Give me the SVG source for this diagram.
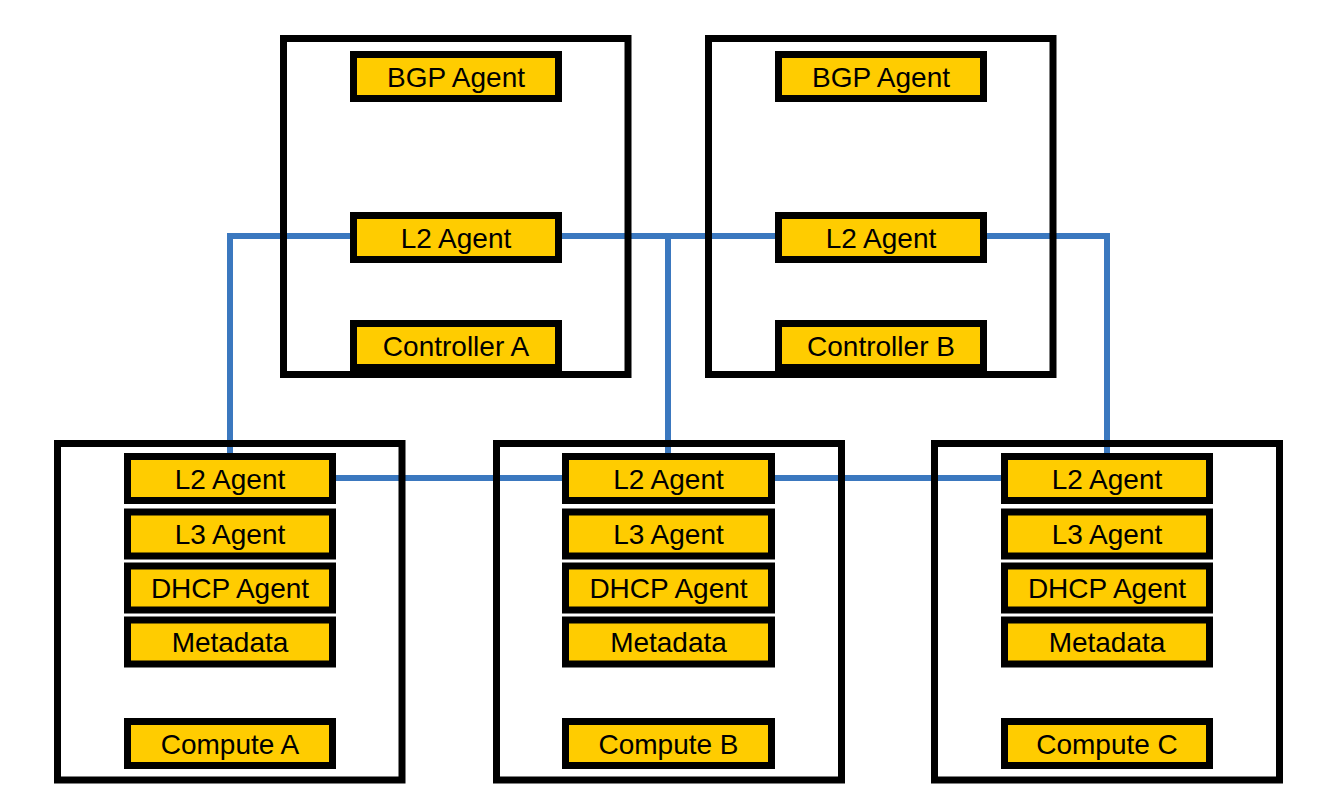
<svg xmlns="http://www.w3.org/2000/svg" width="1325" height="810" viewBox="0 0 1325 810">
<style>
.frame{fill:none;stroke:#000;stroke-width:7}
.box{fill:#FFCC00;stroke:#000;stroke-width:7}
.lbl{font-family:"Liberation Sans",Arial,sans-serif;font-size:28px;fill:#000;text-anchor:middle}
.link{fill:none;stroke:#3B78BF;stroke-width:6}
</style>
<rect width="1325" height="810" fill="#fff"/>
<g id="connectors">
<path class="link" d="M230,456 V236 H353"/>
<path class="link" d="M558,236 H779"/>
<path class="link" d="M668,236 V456"/>
<path class="link" d="M983,236 H1107 V456"/>
<path class="link" d="M332,478 H566"/>
<path class="link" d="M770,478 H1005"/>
</g>
<g id="controller-a">
<rect class="frame" x="283.5" y="38.5" width="344.5" height="336"/>
<g id="ctrl-a-bgp"><rect class="box" x="353.5" y="54.5" width="205" height="44"/><text class="lbl" x="456" y="86.5">BGP Agent</text></g>
<g id="ctrl-a-l2"><rect class="box" x="353.5" y="215.5" width="205" height="44"/><text class="lbl" x="456" y="247.5">L2 Agent</text></g>
<g id="ctrl-a-name"><rect class="box" x="353.5" y="323.5" width="205" height="44"/><text class="lbl" x="456" y="355.5">Controller A</text></g>
</g>
<g id="controller-b">
<rect class="frame" x="708.5" y="38.5" width="344.5" height="336"/>
<g id="ctrl-b-bgp"><rect class="box" x="778.5" y="54.5" width="205" height="44"/><text class="lbl" x="881" y="86.5">BGP Agent</text></g>
<g id="ctrl-b-l2"><rect class="box" x="778.5" y="215.5" width="205" height="44"/><text class="lbl" x="881" y="247.5">L2 Agent</text></g>
<g id="ctrl-b-name"><rect class="box" x="778.5" y="323.5" width="205" height="44"/><text class="lbl" x="881" y="355.5">Controller B</text></g>
</g>
<g id="compute-a">
<rect class="frame" x="57.5" y="443.5" width="344.5" height="336.5"/>
<g id="cmp-a-l2"><rect class="box" x="127.5" y="456.5" width="205" height="44"/><text class="lbl" x="230" y="488.5">L2 Agent</text></g>
<g id="cmp-a-l3"><rect class="box" x="127.5" y="512" width="205" height="44"/><text class="lbl" x="230" y="544">L3 Agent</text></g>
<g id="cmp-a-dhcp"><rect class="box" x="127.5" y="566" width="205" height="44"/><text class="lbl" x="230" y="598">DHCP Agent</text></g>
<g id="cmp-a-meta"><rect class="box" x="127.5" y="620" width="205" height="44"/><text class="lbl" x="230" y="652">Metadata</text></g>
<g id="cmp-a-name"><rect class="box" x="127.5" y="721.5" width="205" height="44"/><text class="lbl" x="230" y="753.5">Compute A</text></g>
</g>
<g id="compute-b">
<rect class="frame" x="496.5" y="443.5" width="345" height="336.5"/>
<g id="cmp-b-l2"><rect class="box" x="565.5" y="456.5" width="206" height="44"/><text class="lbl" x="668.5" y="488.5">L2 Agent</text></g>
<g id="cmp-b-l3"><rect class="box" x="565.5" y="512" width="206" height="44"/><text class="lbl" x="668.5" y="544">L3 Agent</text></g>
<g id="cmp-b-dhcp"><rect class="box" x="565.5" y="566" width="206" height="44"/><text class="lbl" x="668.5" y="598">DHCP Agent</text></g>
<g id="cmp-b-meta"><rect class="box" x="565.5" y="620" width="206" height="44"/><text class="lbl" x="668.5" y="652">Metadata</text></g>
<g id="cmp-b-name"><rect class="box" x="565.5" y="721.5" width="206" height="44"/><text class="lbl" x="668.5" y="753.5">Compute B</text></g>
</g>
<g id="compute-c">
<rect class="frame" x="934.5" y="443.5" width="345" height="336.5"/>
<g id="cmp-c-l2"><rect class="box" x="1004.5" y="456.5" width="205" height="44"/><text class="lbl" x="1107" y="488.5">L2 Agent</text></g>
<g id="cmp-c-l3"><rect class="box" x="1004.5" y="512" width="205" height="44"/><text class="lbl" x="1107" y="544">L3 Agent</text></g>
<g id="cmp-c-dhcp"><rect class="box" x="1004.5" y="566" width="205" height="44"/><text class="lbl" x="1107" y="598">DHCP Agent</text></g>
<g id="cmp-c-meta"><rect class="box" x="1004.5" y="620" width="205" height="44"/><text class="lbl" x="1107" y="652">Metadata</text></g>
<g id="cmp-c-name"><rect class="box" x="1004.5" y="721.5" width="205" height="44"/><text class="lbl" x="1107" y="753.5">Compute C</text></g>
</g>
</svg>
